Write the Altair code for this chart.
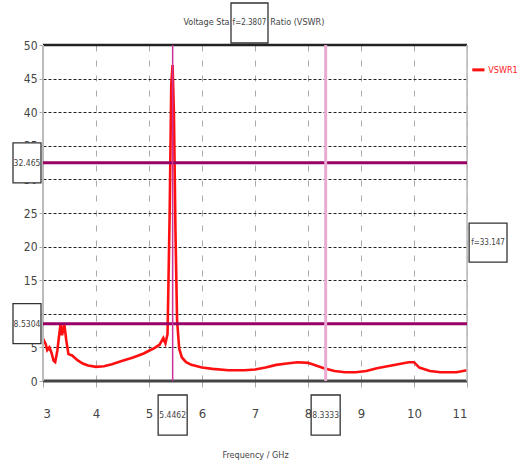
import altair as alt
import pandas as pd

# --- data ---
freq = [3.00, 3.05, 3.08, 3.12, 3.16, 3.20, 3.23, 3.27, 3.30, 3.33, 3.36, 3.40, 3.44, 3.48,
        3.55, 3.65, 3.75, 3.85, 4.00, 4.15, 4.30, 4.50, 4.70, 4.90, 5.00, 5.10, 5.20, 5.27,
        5.31, 5.35, 5.39, 5.42, 5.445, 5.47, 5.50, 5.53, 5.57, 5.62, 5.70, 5.80, 6.00, 6.20,
        6.50, 6.80, 7.00, 7.20, 7.40, 7.60, 7.80, 8.00, 8.15, 8.30, 8.50, 8.70, 8.90, 9.10,
        9.30, 9.50, 9.70, 9.90, 10.00, 10.10, 10.30, 10.50, 10.80, 11.00]
vswr = [6.3, 5.5, 4.6, 5.0, 4.2, 3.0, 2.8, 4.5, 6.5, 8.4, 6.8, 8.6, 6.0, 4.0,
        3.8, 3.1, 2.6, 2.3, 2.1, 2.2, 2.5, 3.0, 3.5, 4.1, 4.5, 4.9, 5.4, 6.4,
        5.6, 7.0, 25.0, 44.0, 47.0, 40.0, 22.0, 9.0, 4.8, 3.5, 2.8, 2.4, 2.0, 1.8,
        1.6, 1.6, 1.7, 2.0, 2.4, 2.6, 2.8, 2.7, 2.3, 1.9, 1.5, 1.3, 1.3, 1.5,
        1.9, 2.2, 2.5, 2.8, 2.8, 2.0, 1.5, 1.3, 1.3, 1.6]

x_ticks = [3, 4, 5, 6, 7, 8, 9, 10, 11]
y_ticks = [0, 5, 10, 15, 20, 25, 30, 35, 40, 45, 50]

marker_x = [5.4462, 8.3333]
marker_x_labels = ["5.4462", "8.3333"]
marker_y = [32.465, 8.5304]
marker_y_labels = ["32.465", "8.5304"]
top_label = "f=2.3807"
right_label = "f=33.147"
title_left = "Voltage Sta"
title_right = "Ratio (VSWR)"
legend_label = "VSWR1"

FONT = "DejaVu Sans Condensed, Liberation Sans Narrow, sans-serif"

X = alt.Scale(domain=[3, 11], nice=False, zero=False)
Y = alt.Scale(domain=[0, 50], nice=False, zero=False)

AX = alt.Axis(values=x_ticks, title="Frequency / GHz", grid=True, gridColor="#aaaaaa",
              gridDash=[6, 9], gridWidth=1, domain=False, tickColor="#aaaaaa",
              tickSize=6, labelFontSize=13, labelPadding=20, labelColor="#444444",
              labelFont=FONT, titleFont=FONT, titleFontSize=9, titleFontWeight="normal",
              titleColor="#444444", titlePadding=30)
AY = alt.Axis(values=y_ticks, title=None, grid=True, gridColor="#222222",
              gridDash=[3, 2], gridWidth=1, domain=False, tickColor="#aaaaaa",
              tickSize=4, labelFontSize=12, labelPadding=2, labelColor="#444444",
              labelFont=FONT)


def xenc(field):
    return alt.X(field, scale=X, axis=AX)


def yenc(field):
    return alt.Y(field, scale=Y, axis=AY)


df = pd.DataFrame({"f": freq, "v": vswr})

curve = alt.Chart(df).mark_line(color="#ff1010", strokeWidth=2.6, interpolate="linear").encode(
    x=xenc("f:Q"), y=yenc("v:Q"),
)

# frame lines
frame_df = pd.DataFrame({
    "f": [3, 3, 3, 11], "f2": [11, 11, 3, 11],
    "v": [0, 50, 0, 0], "v2": [0, 50, 50, 50],
    "c": ["#444444", "#222222", "#bbbbbb", "#bbbbbb"],
    "w": [3, 2.5, 2, 1.5],
})
frame = alt.Chart(frame_df).mark_rule().encode(
    x=xenc("f:Q"), x2="f2:Q", y=yenc("v:Q"), y2="v2:Q",
    color=alt.Color("c:N", scale=None),
    strokeWidth=alt.StrokeWidth("w:Q", scale=None),
)

# horizontal markers
hm_df = pd.DataFrame({"v": marker_y, "f": [3, 3], "f2": [11, 11]})
hm = alt.Chart(hm_df).mark_rule(color="#990066", strokeWidth=3).encode(
    x=xenc("f:Q"), x2="f2:Q", y=yenc("v:Q"),
)

# vertical markers
vm_df = pd.DataFrame({"f": marker_x, "v": [0, 0], "v2": [50, 50],
                      "c": ["#cc3399", "#e8aad0"], "w": [1.5, 3]})
vm = alt.Chart(vm_df).mark_rule().encode(
    x=xenc("f:Q"), y=yenc("v:Q"), y2="v2:Q",
    color=alt.Color("c:N", scale=None),
    strokeWidth=alt.StrokeWidth("w:Q", scale=None),
)

# label boxes (positions in data units)
box_df = pd.DataFrame({
    "label": [marker_y_labels[0], marker_y_labels[1], marker_x_labels[0], marker_x_labels[1],
              top_label, right_label],
    "f": [2.434, 2.434, marker_x[0] - 0.274, marker_x[1] - 0.274, 6.547, 11.04],
    "f2": [2.962, 2.962, marker_x[0] + 0.274, marker_x[1] + 0.274, 7.245, 11.755],
    "v": [marker_y[0] - 2.98, marker_y[1] - 2.98, -8.04, -8.04, 50.3, 17.7],
    "v2": [marker_y[0] + 2.98, marker_y[1] + 2.98, -2.08, -2.08, 56.25, 23.5],
    "fs": [8.5, 8.5, 8.5, 8.5, 8, 8],
})
box_df["fc"] = (box_df["f"] + box_df["f2"]) / 2
box_df["vc"] = (box_df["v"] + box_df["v2"]) / 2

boxes = alt.Chart(box_df).mark_rect(fill="white", stroke="#333333", strokeWidth=1.3).encode(
    x=xenc("f:Q"), x2="f2:Q", y=yenc("v:Q"), y2="v2:Q",
)
box_text = alt.Chart(box_df).mark_text(font=FONT, color="#444444",
                                        baseline="middle", align="center").encode(
    x=xenc("fc:Q"), y=yenc("vc:Q"), text="label:N",
    size=alt.Size("fs:Q", scale=None),
)

# title pieces
tl_df = pd.DataFrame({"t": [title_left], "f": [6.52], "v": [53.4]})
tr_df = pd.DataFrame({"t": [title_right], "f": [7.29], "v": [53.4]})
t_left = alt.Chart(tl_df).mark_text(font=FONT, fontSize=9, color="#444444",
                                    align="right", baseline="middle").encode(
    x=xenc("f:Q"), y=yenc("v:Q"), text="t:N")
t_right = alt.Chart(tr_df).mark_text(font=FONT, fontSize=9, color="#444444",
                                     align="left", baseline="middle").encode(
    x=xenc("f:Q"), y=yenc("v:Q"), text="t:N")

# legend
leg_line = alt.Chart(pd.DataFrame({"f": [11.10], "f2": [11.33], "v": [46.3]})).mark_rule(
    color="#ff1010", strokeWidth=3).encode(
    x=xenc("f:Q"), x2="f2:Q", y=yenc("v:Q"))
leg_text = alt.Chart(pd.DataFrame({"t": [legend_label], "f": [11.40], "v": [46.3]})).mark_text(
    font=FONT, fontSize=9, color="#ff2020", align="left", baseline="middle").encode(
    x=xenc("f:Q"), y=yenc("v:Q"), text="t:N")

chart = alt.layer(curve, frame, hm, vm, boxes, box_text, t_left, t_right, leg_line, leg_text).properties(
    width=424, height=336,
    autosize=alt.AutoSizeParams(type="none"),
    padding={"left": 43, "top": 45, "right": 56, "bottom": 89},
).configure_view(stroke=None).configure(background="white")

chart.save("out.html", embed_options={"renderer": "svg", "actions": False})
